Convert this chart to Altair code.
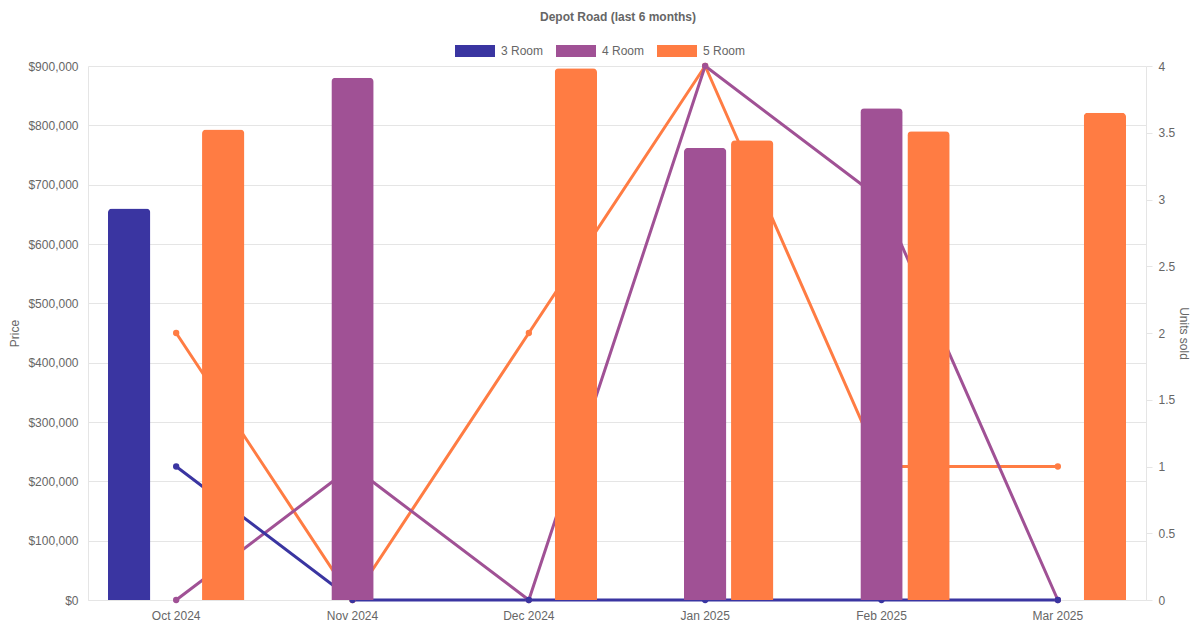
import altair as alt
import pandas as pd

title_text = ["Depot Road (last 6 months)"]
months = ["Oct 2024", "Nov 2024", "Dec 2024", "Jan 2025", "Feb 2025", "Mar 2025"]
types = ["3 Room", "4 Room", "5 Room"]
colors = ["#3a35a1", "#a05195", "#ff7c43"]

price_3 = [660000, None, None, None, None, None]
price_4 = [None, 880000, None, 762000, 829000, None]
price_5 = [793000, None, 896000, 775000, 790000, 821000]

units_3 = [1, 0, 0, 0, 0, 0]
units_4 = [0, 1, 0, 4, 3, 0]
units_5 = [2, 0, 2, 4, 1, 1]

rows = []
for t, prices, units in zip(types, [price_3, price_4, price_5], [units_3, units_4, units_5]):
    for m, p, u in zip(months, prices, units):
        rows.append({"month": m, "type": t, "price": p, "units": u})
df = pd.DataFrame(rows)
bars_df = df.dropna(subset=["price"])
# draw 5 Room line first so that 3 Room ends up on top
lines_df = pd.concat([df[df["type"] == t] for t in reversed(types)], ignore_index=True)

FONT = "Liberation Sans"
GRAY = "#666666"
GRID = "#e5e5e5"
W, H = 1058, 534

x_enc = alt.X(
    "month:N",
    sort=months,
    scale=alt.Scale(paddingInner=0.2, paddingOuter=0.1),
    axis=alt.Axis(title=None, labelAngle=0, grid=False, ticks=False,
                  labelPadding=10, domainColor=GRID, labelColor=GRAY, labelFontSize=12),
)
color_enc = alt.Color(
    "type:N",
    scale=alt.Scale(domain=types, range=colors),
    legend=alt.Legend(
        title=None, orient="none", direction="horizontal",
        legendX=367, legendY=-35,
        symbolType="M-1,-0.3H1V0.3H-1Z", symbolSize=1600,
        symbolStrokeWidth=0, symbolOpacity=1,
        labelFontSize=12, labelColor=GRAY, columnPadding=12, labelOffset=6,
    ),
)

lines = alt.Chart(lines_df).mark_line(strokeWidth=3, point=alt.OverlayMarkDef(size=40, filled=True)).encode(
    x=x_enc,
    y=alt.Y("units:Q",
            scale=alt.Scale(domain=[0, 4], nice=False),
            axis=alt.Axis(orient="right", title="Units sold", values=[0, 0.5, 1, 1.5, 2, 2.5, 3, 3.5, 4],
                          format="~g", labelOverlap=False,
                          grid=False, tickSize=6, tickColor=GRID, domainColor=GRID,
                          labelColor=GRAY, labelFontSize=12, labelPadding=6,
                          titleColor=GRAY, titleFontSize=12, titleFontWeight="normal",
                          titleAngle=90, titleBaseline="bottom", titlePadding=2)),
    color=color_enc,
)

bars = alt.Chart(bars_df).mark_bar(cornerRadiusTopLeft=4, cornerRadiusTopRight=4).encode(
    x=x_enc,
    xOffset=alt.XOffset("type:N", scale=alt.Scale(domain=types, paddingInner=0.1, paddingOuter=0.05)),
    y=alt.Y("price:Q",
            scale=alt.Scale(domain=[0, 900000], nice=False),
            axis=alt.Axis(orient="left", title="Price", format="$,.0f",
                          values=[0, 100000, 200000, 300000, 400000, 500000, 600000, 700000, 800000, 900000],
                          labelOverlap=False,
                          grid=True, gridColor=GRID, ticks=False, domainColor=GRID,
                          labelColor=GRAY, labelFontSize=12, labelPadding=10,
                          titleColor=GRAY, titleFontSize=12, titleFontWeight="normal", titlePadding=6)),
    color=color_enc,
)

title = alt.Chart(pd.DataFrame({"t": title_text})).mark_text(
    fontSize=12, fontWeight="bold", color=GRAY, baseline="middle", align="center"
).encode(
    text="t:N",
    x=alt.value(W / 2 + 1),
    y=alt.value(-49),
)

chart = alt.layer(lines, bars, title).resolve_scale(y="independent").properties(
    width=W,
    height=H,
    autosize=alt.AutoSizeParams(type="none"),
    padding={"left": 80, "top": 58, "right": 46, "bottom": 22},
).configure(font=FONT).configure_view(stroke=None)

chart.save("out.html", embed_options={"renderer": "svg", "actions": False})
